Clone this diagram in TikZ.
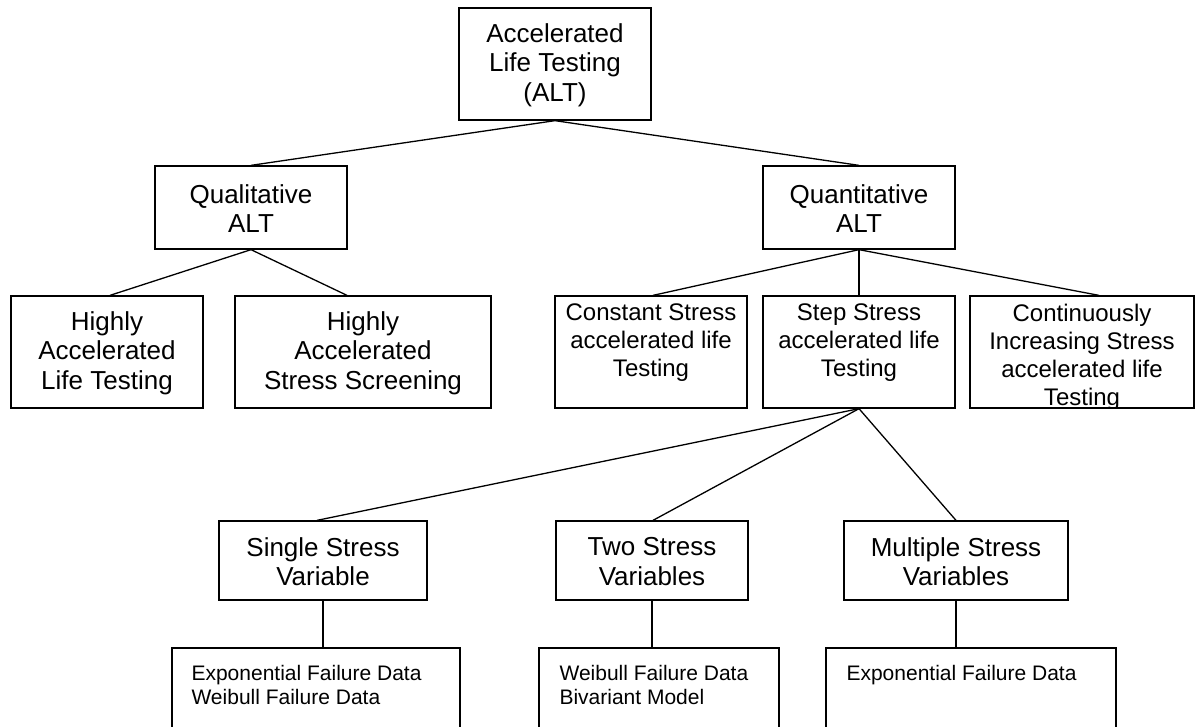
\documentclass[tikz,border=0pt]{standalone}
\usepackage{fontspec}
\setmainfont{Liberation Sans}
\usetikzlibrary{calc}
\tikzset{
  box/.style={draw=black, line width=1.3pt, inner sep=0pt},
  bigtxt/.style={font=\fontsize{26pt}{29.5pt}\selectfont, align=center, inner sep=0pt},
  midtxt/.style={font=\fontsize{24pt}{28pt}\selectfont, align=center, inner sep=0pt, anchor=north},
  smalltxt/.style={font=\fontsize{21pt}{24.5pt}\selectfont, align=left, inner sep=0pt, anchor=north west},
  link/.style={draw=black, line width=1.3pt},
}
\begin{document}
\begin{tikzpicture}[x=1pt,y=-1pt]
\useasboundingbox (0,0) rectangle (1198,726);
\clip (0,0) rectangle (1198,726);
\fill[white] (0,0) rectangle (1198,726);
% boxes
\node[box, minimum width=192pt, minimum height=112pt] (root) at (555,64) {};
\node[box, minimum width=192pt, minimum height=83pt] (qual) at (251,207.5) {};
\node[box, minimum width=192pt, minimum height=83pt] (quant) at (859,207.5) {};
\node[box, minimum width=192pt, minimum height=112pt] (halt) at (107,352) {};
\node[box, minimum width=256pt, minimum height=112pt] (hast) at (363,352) {};
\node[box, minimum width=192pt, minimum height=112pt] (const) at (651,352) {};
\node[box, minimum width=192pt, minimum height=112pt] (step) at (859,352) {};
\node[box, minimum width=224pt, minimum height=112pt] (cont) at (1082,352) {};
\node[box, minimum width=208pt, minimum height=79pt] (single) at (323,560.5) {};
\node[box, minimum width=192pt, minimum height=79pt] (two) at (652,560.5) {};
\node[box, minimum width=224pt, minimum height=79pt] (mult) at (956,560.5) {};
\node[box, minimum width=288pt, minimum height=100pt] (b1) at (316,698) {};
\node[box, minimum width=240pt, minimum height=100pt] (b2) at (659,698) {};
\node[box, minimum width=290pt, minimum height=100pt] (b3) at (971,698) {};
% texts
\node[bigtxt] (root-t) at ($(root.center)+(0,1)$) {Accelerated\\Life Testing\\(ALT)};
\node[bigtxt] (qual-t) at ($(qual.center)+(0,1)$) {Qualitative\\ALT};
\node[bigtxt] (quant-t) at ($(quant.center)+(0,1)$) {Quantitative\\ALT};
\node[bigtxt] (halt-t) at ($(halt.center)+(0,1)$) {Highly\\Accelerated\\Life Testing};
\node[bigtxt] (hast-t) at ($(hast.center)+(0,1)$) {Highly\\Accelerated\\Stress Screening};
\node[midtxt] (const-t) at ($(const.north)+(0,8.5)$) {Constant Stress\\accelerated life\\Testing};
\node[midtxt] (step-t) at ($(step.north)+(0,8.5)$) {Step Stress\\accelerated life\\Testing};
\begin{scope}
\clip (cont.north west) rectangle (cont.south east);
\node[midtxt] (cont-t) at ($(cont.north)+(0,8.5)$) {Continuously\\Increasing Stress\\accelerated life\\Testing};
\end{scope}
\node[bigtxt] (single-t) at ($(single.center)+(0,1)$) {Single Stress\\Variable};
\node[bigtxt] (two-t) at ($(two.center)+(0,1)$) {Two Stress\\Variables};
\node[bigtxt] (mult-t) at ($(mult.center)+(0,1)$) {Multiple Stress\\Variables};
\node[smalltxt] (b1-t) at ($(b1.north west)+(20,17.5)$) {Exponential Failure Data\\Weibull Failure Data};
\node[smalltxt] (b2-t) at ($(b2.north west)+(21,17.5)$) {Weibull Failure Data\\Bivariant Model};
\node[smalltxt] (b3-t) at ($(b3.north west)+(21,17.5)$) {Exponential Failure Data};
% connectors
\draw[link] (root.south) -- (qual.north);
\draw[link] (root.south) -- (quant.north);
\draw[link] (qual.south) -- ($(halt.north)+(3,0)$);
\draw[link] (qual.south) -- ($(hast.north)+(-16,0)$);
\draw[link] (quant.south) -- ($(const.north)+(2,0)$);
\draw[link] (quant.south) -- (step.north);
\draw[link] (quant.south) -- ($(cont.north)+(17,0)$);
\draw[link] (step.south) -- ($(single.north)+(-6,0)$);
\draw[link] (step.south) -- ($(two.north)+(1,0)$);
\draw[link] (step.south) -- (mult.north);
\draw[link] (single.south) -- (single.south |- b1.north);
\draw[link] (two.south) -- (two.south |- b2.north);
\draw[link] (mult.south) -- (mult.south |- b3.north);
\end{tikzpicture}
\end{document}
